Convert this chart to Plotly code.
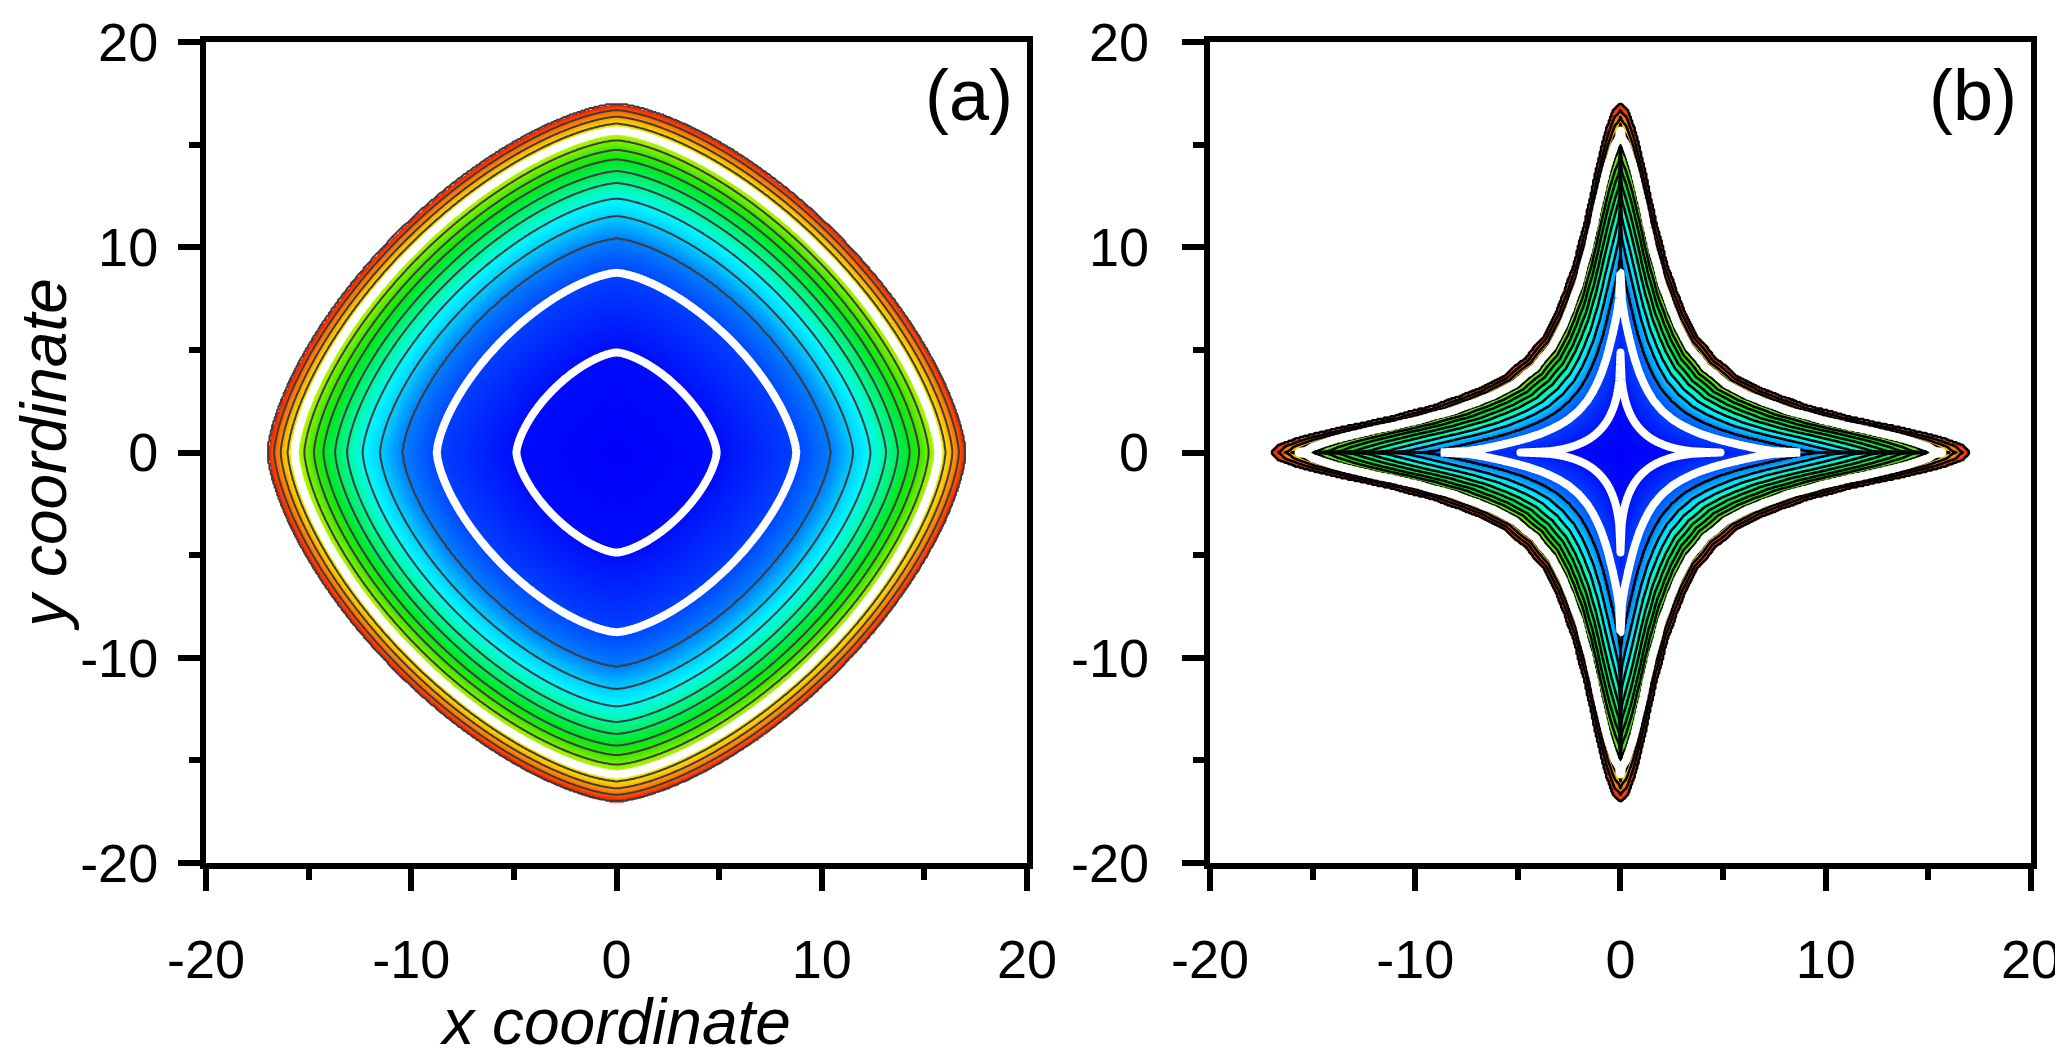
import numpy as np
import plotly.graph_objects as go

# ---- values ----
# radius (crossing point on the axes) of each thin contour line
dark_levels = [10.44, 11.52, 12.37, 13.13, 13.71, 14.28, 14.74, 15.20, 16.03, 16.36, 16.68, 16.97]
# radius of each thick white contour line
white_levels = [4.88, 8.75, 15.66]
outer_radius = 17.0
# panel (a): level curves |x|^p + |y|^p = r^p
exponent_a = 1.5
# panel (b): outer level curve (r = 17), polar angle from nearest axis (deg) -> radius / 17
outer_angle_b = [0, 1.0, 2.4, 4.0, 6.5, 8.9, 12.7, 14.1, 19.0, 24.0, 28.7, 33.0, 45.0]
outer_shape_b = [1.0, 0.988, 0.93, 0.85, 0.74, 0.66, 0.575, 0.55, 0.489, 0.445, 0.419, 0.399, 0.382]
# panel (b): inner level curve (r = 4.88) is close to an astroid-like curve with this exponent
exponent_b_inner = 0.45
# colour map as a function of radius
color_radius = [0, 4.9, 8.7, 10.4, 11.5, 12.2, 12.8, 13.5, 14.2, 14.8, 15.3, 15.8, 16.1, 16.4, 16.7, 17.0]
color_values = ["rgb(0,0,250)", "rgb(0,12,250)", "rgb(0,65,255)", "rgb(0,125,255)", "rgb(0,205,255)",
                "rgb(0,245,255)", "rgb(0,252,195)", "rgb(0,242,115)", "rgb(0,232,35)", "rgb(60,232,0)",
                "rgb(150,242,0)", "rgb(230,245,0)", "rgb(255,210,0)", "rgb(255,150,0)", "rgb(255,90,0)",
                "rgb(240,20,0)"]
line_colors = ["#3c3c3c", "#000000"]
tick_vals = [-20, -10, 0, 10, 20]
tick_text = ["-20", "-10", "0", "10", "20"]
minor_vals = [-15, -5, 5, 15]
panel_labels = ["(a)", "(b)"]
x_title = "x coordinate"
y_title = "y coordinate"

FONT = "Liberation Sans Narrow, Arial Narrow, Liberation Sans, Arial"

grid = np.linspace(-17.6, 17.6, 561)
X, Y = np.meshgrid(grid, grid)
ax_, ay_ = np.abs(X), np.abs(Y)
rad = np.hypot(ax_, ay_)

# panel (a) field
R_a = (ax_ ** exponent_a + ay_ ** exponent_a) ** (1.0 / exponent_a)

# panel (b) field: shape blends from inner curve (r = white_levels[0]) to outer curve (r = 17)
theta = np.degrees(np.arctan2(ay_, ax_))
th = np.minimum(theta, 90.0 - theta)
g2 = np.interp(th, outer_angle_b, outer_shape_b)
c, s = np.cos(np.radians(th)), np.sin(np.radians(th))
q = exponent_b_inner
g1 = (c ** q + s ** q) ** (-1.0 / q)
R1, R2 = white_levels[0], outer_radius
d = (g2 - g1) / (R2 - R1)
b = g1 - d * R1
R_b = np.where(rad <= R1 * g1, rad / g1, 2 * rad / (b + np.sqrt(np.maximum(b * b + 4 * d * rad, 0))))

colorscale = [[r / outer_radius, col] for r, col in zip(color_radius, color_values)]

fig = go.Figure()
for k, R in enumerate([R_a, R_b]):
    xa = "x" if k == 0 else "x2"
    ya = "y" if k == 0 else "y2"
    fill = np.where(R <= outer_radius, R, np.nan).astype(np.float32)
    fig.add_trace(go.Heatmap(x=grid, y=grid, z=fill, colorscale=colorscale, zmin=0, zmax=outer_radius,
                             zsmooth="best", showscale=False, hoverinfo="skip", xaxis=xa, yaxis=ya))
    n = len(dark_levels)
    zl = np.interp(R, [0] + dark_levels + [60], [-1] + list(range(n)) + [n]).astype(np.float32)
    fig.add_trace(go.Contour(x=grid, y=grid, z=zl, autocontour=False,
                             contours=dict(start=0, end=n - 1, size=1, coloring="none"),
                             line=dict(color=line_colors[k], width=2 if k == 0 else 2.6, smoothing=0.6),
                             showscale=False, hoverinfo="skip", xaxis=xa, yaxis=ya))
    m = len(white_levels)
    zw = np.interp(R, [0] + white_levels + [60], [-1] + list(range(m)) + [m]).astype(np.float32)
    fig.add_trace(go.Contour(x=grid, y=grid, z=zw, autocontour=False,
                             contours=dict(start=0, end=m - 1, size=1, coloring="none"),
                             line=dict(color="white", width=8, smoothing=0.6),
                             showscale=False, hoverinfo="skip", xaxis=xa, yaxis=ya))


def axis_style(standoff, **extra):
    d_ = dict(range=[-20, 20], tickmode="array", tickvals=tick_vals, ticktext=tick_text,
              ticks="outside", ticklen=22, tickwidth=6, tickcolor="black",
              showline=True, linewidth=6, linecolor="black", mirror=True,
              showgrid=False, zeroline=False, automargin=False, ticklabelstandoff=standoff,
              tickfont=dict(family=FONT, size=54, color="black"),
              minor=dict(tickmode="array", tickvals=minor_vals, ticks="outside", ticklen=11,
                         tickwidth=6, tickcolor="black", showgrid=False))
    d_.update(extra)
    return d_


title_font = dict(family=FONT, size=64, color="black", style="italic")
# the page body adds an 8 px offset on the left and top, so the figure is 8 px smaller
fig.update_layout(
    width=2055, height=1050,
    margin=dict(l=198, r=32, t=34, b=195),
    plot_bgcolor="white", paper_bgcolor="white", showlegend=False,
    xaxis=axis_style(22, domain=[0, 0.4499], anchor="y",
                     title=dict(text=x_title, font=title_font, standoff=12)),
    yaxis=axis_style(9, domain=[0, 1], anchor="x",
                     title=dict(text=y_title, font=title_font, standoff=34)),
    xaxis2=axis_style(22, domain=[0.5501, 1], anchor="y2"),
    yaxis2=axis_style(22, domain=[0, 1], anchor="x2"),
)

for k, lab in enumerate(panel_labels):
    fig.add_annotation(text=lab, xref="x" if k == 0 else "x2", yref="y" if k == 0 else "y2",
                       x=19.4, y=17.4, xanchor="right", yanchor="middle", showarrow=False,
                       font=dict(family="Liberation Sans, Arial", size=72, color="black"))

fig.write_html("out.html")
